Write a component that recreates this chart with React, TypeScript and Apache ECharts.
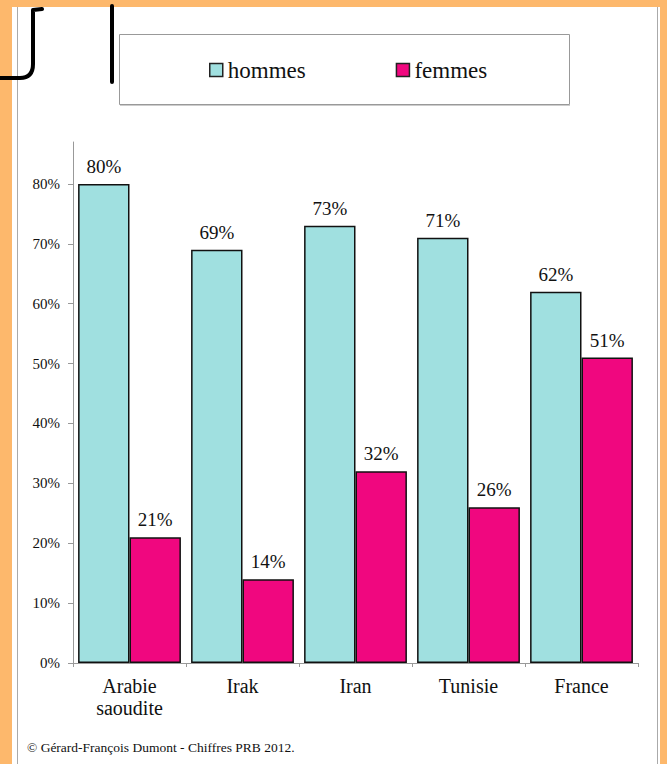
import React, { useEffect, useRef } from "react";
import * as echarts from "echarts";

const categories = ["Arabie\nsaoudite", "Irak", "Iran", "Tunisie", "France"];
const hommes = [80, 69, 73, 71, 62];
const femmes = [21, 14, 32, 26, 51];
const yTicks = [0, 10, 20, 30, 40, 50, 60, 70, 80];
const footer = "© Gérard-François Dumont - Chiffres PRB 2012.";

const FONT = "Liberation Serif";

echarts.graphic.registerShape(
  "hook",
  (echarts.graphic as any).extendPath("M-4,78 L20,78 Q33,78 33,64 L33,10 L42,9", {})
);

export default function App() {
  const ref = useRef<HTMLDivElement>(null);
  useEffect(() => {
    document.body.style.margin = "0";
    const chart = echarts.init(ref.current!, undefined, { renderer: "svg" });
    chart.setOption({
      animation: false,
      backgroundColor: "#FDB86C",
      textStyle: { fontFamily: FONT },
      graphic: [
        { type: "rect", z: -10, shape: { x: 12, y: 7, width: 648, height: 760 }, style: { fill: "#fff" } },
        { type: "line", z: -9, shape: { x1: 17.5, y1: 7, x2: 17.5, y2: 764 }, style: { stroke: "#aaa", lineWidth: 1 } },
        { type: "line", z: -9, shape: { x1: 657.5, y1: 7, x2: 657.5, y2: 764 }, style: { stroke: "#aaa", lineWidth: 1 } },
        { type: "rect", z: -8, shape: { x: 119.5, y: 34.5, width: 450, height: 70 }, style: { fill: "#fff", stroke: "#999", lineWidth: 1 } },
        { type: "line", z: -8, shape: { x1: 120, y1: 105.5, x2: 570, y2: 105.5 }, style: { stroke: "#ccc", lineWidth: 1 } },
        {
          type: "hook",
          z: 10,
          x: 0,
          y: 0,
          scaleX: 1,
          scaleY: 1,
          style: { fill: "none", stroke: "#000", lineWidth: 4, lineCap: "round", lineJoin: "round" },
        },
        { type: "line", z: 10, shape: { x1: 112, y1: 6, x2: 112, y2: 82 }, style: { stroke: "#000", lineWidth: 4, lineCap: "round" } },
        {
          type: "text",
          x: 27,
          y: 747,
          style: { text: footer, font: `13.5px ${FONT}`, fill: "#111", textVerticalAlign: "middle" },
        },
      ],
      legend: {
        data: ["hommes", "femmes"],
        left: 209,
        top: 58,
        padding: 0,
        itemWidth: 13,
        itemHeight: 13,
        itemGap: 90,
        icon: "rect",
        itemStyle: { borderColor: "#222", borderWidth: 1.5 },
        textStyle: { fontFamily: FONT, fontSize: 23, color: "#111", lineHeight: 24 },
      },
      grid: { left: 73, right: 29, top: 142, bottom: 101, containLabel: false },
      xAxis: {
        type: "category",
        data: categories,
        axisLine: { lineStyle: { color: "#999", width: 1 } },
        axisTick: { show: true, length: 4, lineStyle: { color: "#999" } },
        axisLabel: { fontFamily: FONT, fontSize: 20, color: "#111", margin: 12, lineHeight: 22 },
      },
      yAxis: {
        type: "value",
        min: 0,
        max: 87,
        interval: 10,
        splitLine: { show: false },
        axisLine: { show: true, lineStyle: { color: "#999", width: 1 } },
        axisTick: { show: true, length: 5, lineStyle: { color: "#999" }, customValues: yTicks },
        axisLabel: {
          fontFamily: FONT,
          fontSize: 15,
          color: "#111",
          margin: 13,
          customValues: yTicks,
          formatter: (v: number) => (v > 80 ? "" : `${v}%`),
        },
      },
      series: [
        {
          name: "hommes",
          type: "bar",
          data: hommes,
          barGap: "0%",
          barCategoryGap: "9%",
          itemStyle: { color: "#A0E0E0", borderColor: "#111", borderWidth: 1.5 },
          label: { show: true, position: "top", distance: 8, formatter: "{c}%", fontFamily: FONT, fontSize: 19, color: "#111" },
        },
        {
          name: "femmes",
          type: "bar",
          data: femmes,
          barGap: "0%",
          barCategoryGap: "9%",
          itemStyle: { color: "#F0077F", borderColor: "#111", borderWidth: 1.5 },
          label: { show: true, position: "top", distance: 8, formatter: "{c}%", fontFamily: FONT, fontSize: 19, color: "#111" },
        },
      ],
    });
    return () => chart.dispose();
  }, []);
  return <div ref={ref} style={{ width: 667, height: 764 }} />;
}
